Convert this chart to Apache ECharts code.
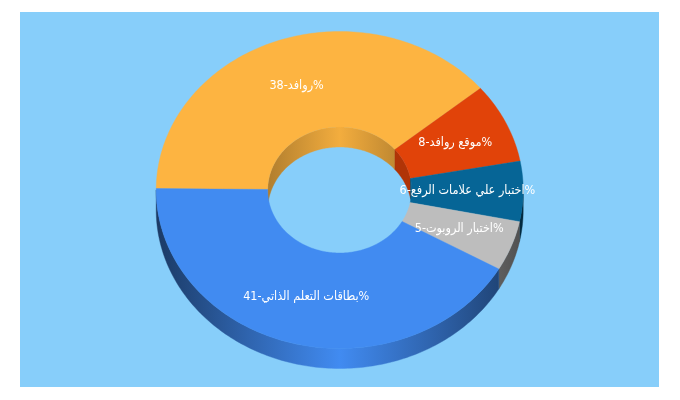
<!DOCTYPE html>
<html>
<head>
<meta charset="utf-8">
<style>html,body{margin:0;padding:0;background:#fff}#c{width:680px;height:400px}</style>
<script src="https://cdn.jsdelivr.net/npm/echarts@6/dist/echarts.min.js"></script>
</head>
<body>
<div id="c"></div>
<script>
const categories = ['روافد', 'موقع روافد', 'اختبار علي علامات الرفع', 'اختبار الروبوت', 'بطاقات التعلم الذاتي'];
const values = [38, 8, 6, 5, 41];
const colors = ['#FDB441', '#E14309', '#066596', '#BDBDBD', '#418BF1'];
const labels = categories.map((c, i) => values[i] + '-' + c + '%');

const total = values.reduce((a, b) => a + b, 0);
const startAngle = 179.5;
const cx = 339.7, cy = 190, rx = 183.5, ry = 158.5, irx = 72, iry = 63, depth = 20;

function shade(hex, f) {
  const n = parseInt(hex.slice(1), 16);
  const c = [(n >> 16) & 255, (n >> 8) & 255, n & 255].map(v => Math.round(v * f));
  return 'rgb(' + c.join(',') + ')';
}
function pt(a, x, y, dy) {
  const r = a * Math.PI / 180;
  return [cx + x * Math.cos(r), cy - y * Math.sin(r) + (dy || 0)];
}
function arc(a1, a2, x, y, dy) {
  const n = Math.max(2, Math.ceil(Math.abs(a2 - a1)));
  const out = [];
  for (let i = 0; i <= n; i++) out.push(pt(a1 + (a2 - a1) * i / n, x, y, dy));
  return out;
}
function grad(x0, x1, stops) {
  return { type: 'linear', x: x0, y: 0, x2: x1, y2: 0, global: true,
    colorStops: stops.map(s => ({ offset: s[0], color: s[1] })) };
}
function renderSlice(params, api) {
  const i = params.dataIndex;
  let before = 0;
  for (let k = 0; k < i; k++) before += values[k];
  const a1 = startAngle - before / total * 360;
  const a2 = a1 - api.value(0) / total * 360;
  const col = colors[i];
  const children = [];
  // inner wall: only the part of the hole that faces the viewer (upper half)
  const ia = Math.min(a1, 180), ib = Math.max(a2, 0);
  if (ia > ib) {
    const fill = grad(cx - irx, cx + irx, [[0, shade(col, 0.7)], [0.5, shade(col, 0.96)], [1, shade(col, 0.7)]]);
    children.push({ type: 'polygon', z2: 1, silent: true,
      shape: { points: arc(ia, ib, irx, iry, 0).concat(arc(ib, ia, irx, iry, depth)) },
      style: { fill: i === 1 ? shade(col, 0.78) : fill, stroke: i === 1 ? shade(col, 0.78) : fill, lineWidth: 0.4 } });
  }
  // outer wall: only the lower half
  const oa = Math.min(a1, 0), ob = Math.max(a2, -180);
  if (oa > ob) {
    const fill = grad(cx - rx, cx + rx, [[0, shade(col, 0.42)], [0.25, shade(col, 0.72)], [0.5, shade(col, 1)], [0.75, shade(col, 0.72)], [1, shade(col, 0.42)]]);
    children.push({ type: 'polygon', z2: 2, silent: true,
      shape: { points: arc(oa, ob, rx, ry, 0).concat(arc(ob, oa, rx, ry, depth)) },
      style: { fill: fill, stroke: fill, lineWidth: 0.4 } });
  }
  // top face
  children.push({ type: 'polygon', z2: 3, silent: true,
    shape: { points: arc(a1, a2, rx, ry, 0).concat(arc(a2, a1, irx, iry, 0)) },
    style: { fill: col, stroke: col, lineWidth: 0.4 } });
  // label at the middle of the ring
  const mid = pt((a1 + a2) / 2, (rx + irx) / 2, (ry + iry) / 2, 0);
  children.push({ type: 'text', z2: 10, silent: true,
    style: { text: labels[i], x: mid[0], y: mid[1], align: 'center', verticalAlign: 'middle',
      fill: '#fff', font: 'condensed 12.5px "DejaVu Sans"' } });
  return { type: 'group', children: children };
}

const chart = echarts.init(document.getElementById('c'), null, { renderer: 'canvas' });
chart.setOption({
  animation: false,
  backgroundColor: '#ffffff',
  tooltip: { show: false },
  graphic: [{ type: 'rect', z: -10, silent: true, shape: { x: 20, y: 12, width: 639, height: 375 }, style: { fill: '#87CEFA' } }],
  series: [{
    type: 'custom',
    coordinateSystem: 'none',
    data: values.map(v => [v]),
    renderItem: renderSlice,
    clip: false
  }]
});
</script>
</body>
</html>
